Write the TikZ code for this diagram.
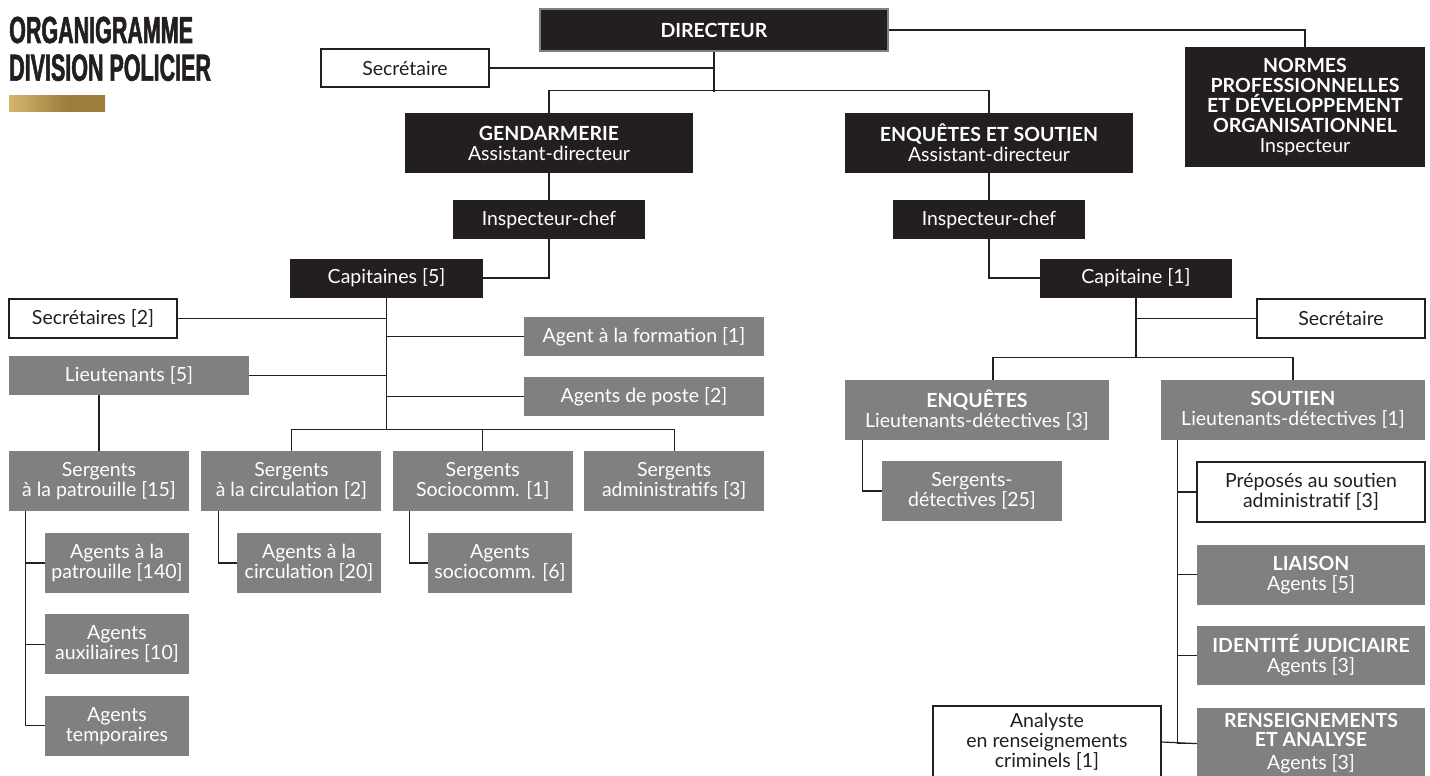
\documentclass[tikz,border=0pt]{standalone}
\usepackage{fontspec}
\setmainfont{Lato}
\newfontfamily\titlefont{Liberation Sans}[FakeStretch=0.57,BoldFeatures={FakeBold=1.5}]
\usetikzlibrary{positioning}
\definecolor{ink}{HTML}{231F20}
\definecolor{slate}{HTML}{808080}
\definecolor{goldlight}{HTML}{E3C27A}
\definecolor{golddark}{HTML}{9E7E3C}
\pgfdeclarehorizontalshading{goldbar}{100bp}{color(0bp)=(goldlight); color(18bp)=(goldlight);
  color(55bp)=(golddark); color(100bp)=(golddark)}

\begin{document}
\begin{tikzpicture}[
        x=1pt, y=-1pt,
        every node/.style={font=\fontsize{19.5}{20}\selectfont, align=center, inner sep=0pt},
        dims/.style 2 args={minimum width=#1pt, minimum height=#2pt},
        chief/.style={fill=ink, text=white},
        unit/.style={fill=slate, text=white},
        staff/.style={fill=white, draw=ink, line width=1.2pt, text=ink},
        conn/.style={draw=ink, line width=1.2pt},
        heading/.style={anchor=base west, text=ink,
          font=\titlefont\bfseries\fontsize{37.7}{38}\selectfont}
      ]
      \useasboundingbox (0,0) rectangle (1430,776);

      % title and gold bar
      \node[heading] (title1) at (9,43) {ORGANIGRAMME};
      \node[heading] (title2) at (9,80.7) {DIVISION POLICIER};
      \shade[shading=goldbar] (9,95) rectangle (105,111);

      % direction
      \node[chief, dims={348}{42}, draw=slate, line width=2pt] (directeur) at (714,30) {\textbf{DIRECTEUR}};
      \node[staff, dims={168}{38}] (secdir) at (405,68) {Secrétaire};
      \node[chief, dims={240}{120}] (normes) at (1305,107) {%
        \textbf{NORMES}\\\textbf{PROFESSIONNELLES}\\\textbf{ET DÉVELOPPEMENT}\\\textbf{ORGANISATIONNEL}\\Inspecteur};
      \node[chief, dims={288}{60}] (gend) at (549,143) {\textbf{GENDARMERIE}\\Assistant-directeur};
      \node[chief, dims={288}{60}] (enqsout) at (989,143) {\textbf{ENQUÊTES ET SOUTIEN}\\Assistant-directeur};
      \node[chief, dims={192}{39}] (inspg) at (549,219.5) {Inspecteur-chef};
      \node[chief, dims={192}{39}] (inspe) at (989,219.5) {Inspecteur-chef};
      \node[chief, dims={193}{39}] (capg) at (386.5,278) {Capitaines [5]};
      \node[chief, dims={192}{39}] (cape) at (1136,278) {Capitaine [1]};

      % gendarmerie
      \node[staff, dims={168}{39}] (secg) at (93,318.5) {Secrétaires [2]};
      \node[unit, dims={240}{39}] (formation) at (644,336.5) {Agent à la formation [1]};
      \node[unit, dims={240}{39}] (lieut) at (129,375.5) {Lieutenants [5]};
      \node[unit, dims={240}{39}] (poste) at (644,396.5) {Agents de poste [2]};
      \node[unit, dims={180}{60}] (sgtpat) at (99,481) {Sergents\\à la patrouille [15]};
      \node[unit, dims={180}{60}, right=12pt of sgtpat] (sgtcirc) {Sergents\\à la circulation [2]};
      \node[unit, dims={180}{60}, right=11pt of sgtcirc] (sgtsoc) {Sergents\\Sociocomm. [1]};
      \node[unit, dims={180}{60}, right=11pt of sgtsoc] (sgtadm) {Sergents\\administratifs [3]};
      \node[unit, dims={144}{60}] (agpat) at (117,563) {Agents à la\\patrouille [140]};
      \node[unit, dims={144}{60}, below=21pt of agpat] (agaux) {Agents\\auxiliaires [10]};
      \node[unit, dims={144}{60}, below=21pt of agaux] (agtemp) {Agents\\temporaires};
      \node[unit, dims={144}{60}] (agcirc) at (309,563) {Agents à la\\circulation [20]};
      \node[unit, dims={144}{60}] (agsoc) at (500,563) {Agents\\sociocomm. [6]};

      % enquetes et soutien
      \node[staff, dims={168}{39}] (sece) at (1341,318.5) {Secrétaire};
      \node[unit, dims={264}{60}] (enq) at (977,410) {\textbf{ENQUÊTES}\\Lieutenants-détectives [3]};
      \node[unit, dims={264}{60}] (sout) at (1293,410) {\textbf{SOUTIEN}\\Lieutenants-détectives [1]};
      \node[unit, dims={180}{60}] (sgtdet) at (972,491) {Sergents-\\détectives [25]};
      \node[staff, dims={228}{60}] (prepos) at (1311,492) {Préposés au soutien\\administratif [3]};
      \node[unit, dims={228}{60}, below=22pt of prepos] (liaison) {\textbf{LIAISON}\\Agents [5]};
      \node[unit, dims={228}{59}, below=21pt of liaison] (ident) {\textbf{IDENTITÉ JUDICIAIRE}\\Agents [3]};
      \node[unit, dims={228}{72}, below=22pt of ident] (renseign) {%
        \textbf{RENSEIGNEMENTS}\\[-1pt]\textbf{ET ANALYSE}\\[3pt]Agents [3]};
      \node[staff, dims={228}{72}] (analyste) at (1047,742) {Analyste\\en renseignements\\criminels [1]};

      % links at the top
      \draw[conn] (directeur.south) -- ++(0,40);
      \draw[conn] (gend.north) -- ++(0,-22) -| (enqsout.north);
      \draw[conn] (secdir.east) -- (secdir.east -| directeur.south);
      \draw[conn] (directeur.east) -| (normes.north);
      \draw[conn] (gend.south) -- (inspg.north);
      \draw[conn] (enqsout.south) -- (inspe.north);
      \draw[conn] (inspg.south) |- (capg.east);
      \draw[conn] (inspe.south) |- (cape.west);

      % links, gendarmerie
      \draw[conn] (capg.south) -- ++(0,132.5);
      \draw[conn] (sgtcirc.north) -- ++(0,-21) -| (sgtadm.north);
      \draw[conn] (sgtsoc.north) -- ++(0,-21);
      \draw[conn] (secg.east) -- (secg.east -| capg.south);
      \draw[conn] (lieut.east) -- (lieut.east -| capg.south);
      \draw[conn] (formation.west) -- (formation.west -| capg.south);
      \draw[conn] (poste.west) -- (poste.west -| capg.south);
      \draw[conn] (sgtpat.north) -- (sgtpat.north |- lieut.south);
      \draw[conn] ([xshift=17pt]sgtpat.south west) |- (agtemp.west);
      \draw[conn] (agpat.west) -- ++(-19,0);
      \draw[conn] (agaux.west) -- ++(-19,0);
      \draw[conn] ([xshift=17pt]sgtcirc.south west) |- (agcirc.west);
      \draw[conn] ([xshift=17pt]sgtsoc.south west) |- (agsoc.west);

      % links, enquetes et soutien
      \draw[conn] (cape.south) -- ++(0,60.5);
      \draw[conn] (sece.west) -- (sece.west -| cape.south);
      \draw[conn] ([xshift=16pt]enq.north) -- ++(0,-22) -| (sout.north);
      \draw[conn] ([xshift=18pt]enq.south west) |- (sgtdet.west);
      \draw[conn] ([xshift=17pt]sout.south west) |- (renseign.west);
      \draw[conn] (prepos.west) -- ++(-19,0);
      \draw[conn] (liaison.west) -- ++(-19,0);
      \draw[conn] (ident.west) -- ++(-19,0);
      \draw[conn] (analyste.east) -- (renseign.west);
\end{tikzpicture}
\end{document}
